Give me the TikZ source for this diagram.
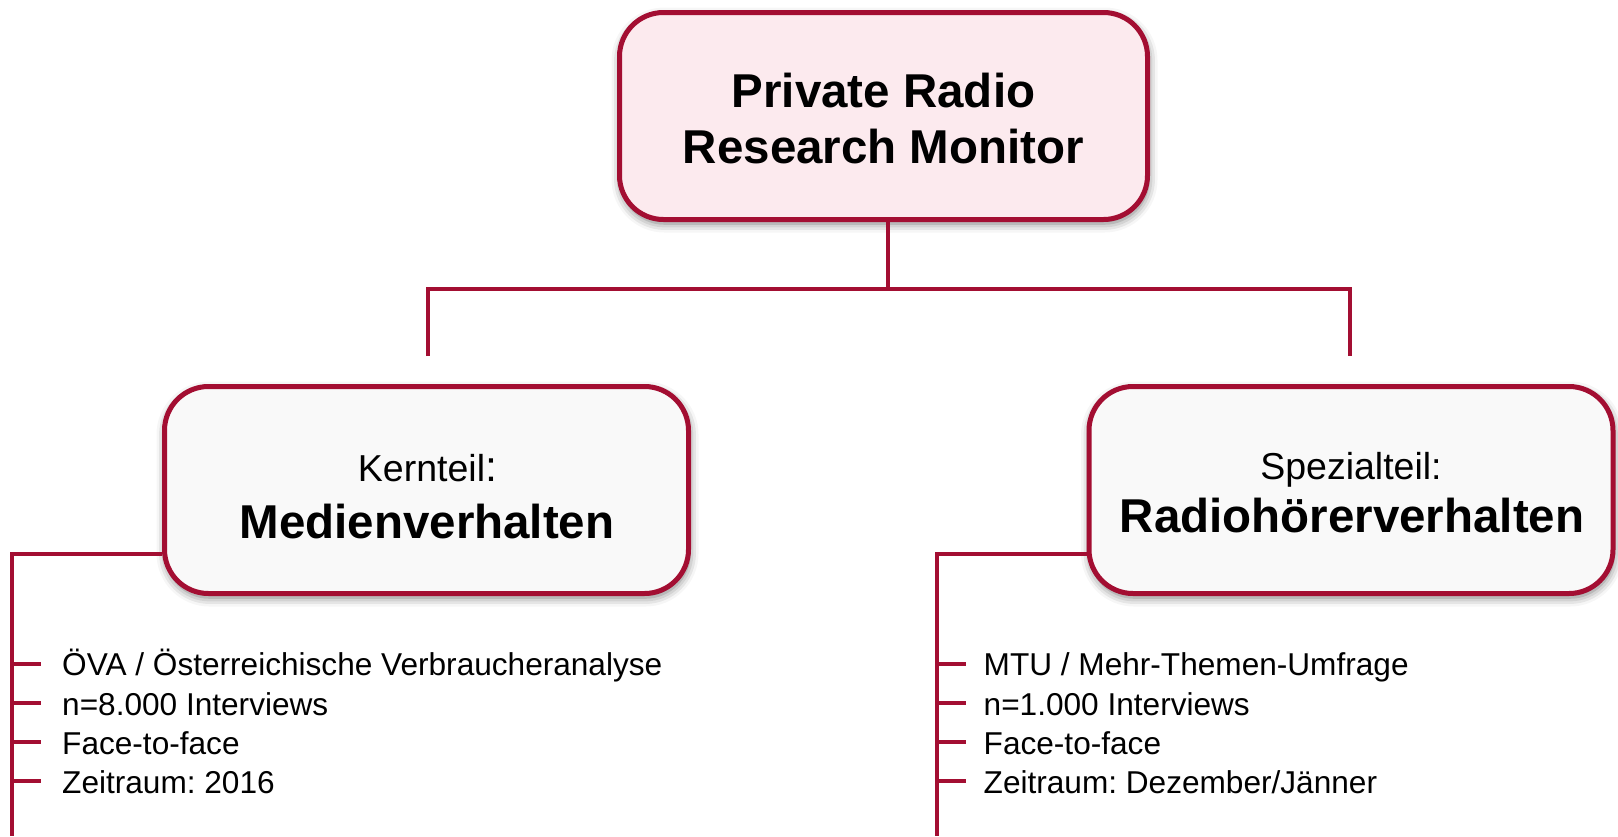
\documentclass[tikz,border=0pt]{standalone}
\usepackage{fontspec}
\setmainfont{Liberation Sans}
\usetikzlibrary{shadows.blur}
\definecolor{crim}{RGB}{163,14,50}
\definecolor{pinkfill}{RGB}{252,234,238}
\definecolor{greyfill}{RGB}{249,249,249}
\frenchspacing
\begin{document}
\begin{tikzpicture}[x=1pt,y=-1pt,
  boxstyle/.style={draw=crim, line width=5pt, rounded corners=44pt, inner sep=0pt,
    blur shadow={shadow xshift=1pt, shadow yshift=-4pt, shadow blur radius=9pt, shadow opacity=55}},
  conn/.style={draw=crim, line width=4.8pt},
  dashline/.style={draw=crim, line width=4pt},
  bigtext/.style={font=\fontsize{47.5}{56}\selectfont\bfseries, anchor=base, inner sep=0pt},
  midtext/.style={font=\fontsize{37.5}{45}\selectfont, anchor=base, inner sep=0pt},
  itemtext/.style={font=\fontsize{31.6}{39}\selectfont, anchor=base west, inner sep=0pt},
]
\useasboundingbox (0,0) rectangle (1618,836);

% boxes
\node[boxstyle, fill=pinkfill, minimum width=528pt, minimum height=207pt] (top) at (883.5,116) {};
\node[boxstyle, fill=greyfill, minimum width=524pt, minimum height=207pt] (left) at (426.5,490) {};
\node[boxstyle, fill=greyfill, minimum width=524pt, minimum height=207pt] (right) at (1351,490) {};

% box texts
\node[bigtext] (t1) at (883.5,107) {Private Radio};
\node[bigtext] (t2) at (883.5,163) {Research Monitor};
\node[midtext] (l1) at (427.5,481) {Kernteil{\fontsize{43}{45}\selectfont :}};
\node[bigtext] (l2) at (427,538.5) {Medienverhalten};
\node[midtext] (r1) at (1351,479) {Spezialteil:};
\node[bigtext] (r2) at (1352,532.5) {Radiohörerverhalten};

% tree connectors
\coordinate (hub) at (888,289);
\coordinate (lt) at (428,289);
\coordinate (rt) at (1350,289);
\coordinate (ld) at (428,356);
\coordinate (rd) at (1350,356);
\draw[conn] (top.south -| hub) -- (hub);
\draw[conn, line join=miter] (ld) -- (lt) -- (rt) -- (rd);

% brackets
\coordinate (lb) at (12,554);
\coordinate (lbend) at (12,836);
\coordinate (rb) at (937,554);
\coordinate (rbend) at (937,836);
\draw[conn, line join=miter] (left.west |- lb) -- (lb) -- (lbend);
\draw[conn, line join=miter] (right.west |- rb) -- (rb) -- (rbend);

% bullet dashes and items
\foreach \y in {663.5,703,742,781}{
  \draw[dashline] (12,\y) -- (41,\y);
  \draw[dashline] (937,\y) -- (966,\y);
}
\node[itemtext] (a1) at (62,675.5) {ÖVA / Österreichische Verbraucheranalyse};
\node[itemtext] (a2) at (62,715) {n=8.000 Interviews};
\node[itemtext] (a3) at (62,754) {Face-to-face};
\node[itemtext] (a4) at (62,793) {Zeitraum: 2016};
\node[itemtext] (b1) at (983.5,675.5) {MTU / Mehr-Themen-Umfrage};
\node[itemtext] (b2) at (983.5,715) {n=1.000 Interviews};
\node[itemtext] (b3) at (983.5,754) {Face-to-face};
\node[itemtext] (b4) at (983.5,793) {Zeitraum: Dezember/Jänner};
\end{tikzpicture}
\end{document}
